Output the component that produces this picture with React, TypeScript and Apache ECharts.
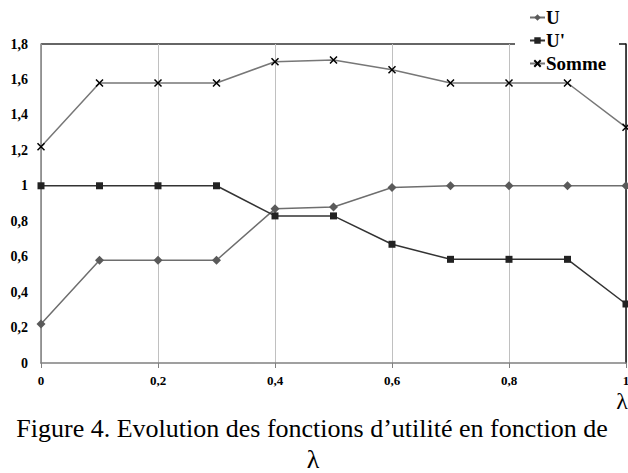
import React, { useEffect, useRef } from "react";
import * as echarts from "echarts";

const lambdas = [0, 0.1, 0.2, 0.3, 0.4, 0.5, 0.6, 0.7, 0.8, 0.9, 1];
const uValues = [0.22, 0.58, 0.58, 0.58, 0.87, 0.88, 0.99, 1.0, 1.0, 1.0, 1.0];
const uPrimeValues = [1, 1, 1, 1, 0.83, 0.83, 0.67, 0.585, 0.585, 0.585, 0.333];
const sommeValues = [1.22, 1.58, 1.58, 1.58, 1.7, 1.71, 1.655, 1.58, 1.58, 1.58, 1.33];
const seriesNames = ["U", "U'", "Somme"];
const caption = "Figure 4. Evolution des fonctions d\u2019utilit\u00e9 en fonction de";
const axisName = "\u03bb";

const FONT = "Liberation Serif";
const fmt = (v: number) => String(Math.round(v * 10) / 10).replace(".", ",");

export default function App() {
  const ref = useRef<HTMLDivElement>(null);
  useEffect(() => {
    if (!ref.current) return;
    const chart = echarts.init(ref.current, null, { renderer: "svg" });
    const pts = (vals: number[]) => lambdas.map((x, i) => [x, vals[i]]);
    chart.setOption({
      animation: false,
      backgroundColor: "#ffffff",
      textStyle: { fontFamily: FONT },
      grid: { left: 41, right: 2, top: 44, bottom: 110, containLabel: false, outerBoundsMode: "none" },
      legend: {
        orient: "vertical",
        left: 524,
        top: 3,
        itemGap: 4,
        itemWidth: 15,
        itemHeight: 8,
        data: seriesNames,
        textStyle: { fontFamily: FONT, fontWeight: "bold", fontSize: 19, color: "#000", padding: [0, 0, 0, -4] },
      },
      xAxis: {
        type: "value",
        min: 0,
        max: 1,
        interval: 0.2,
        axisLine: { show: true, lineStyle: { color: "#808080", width: 1.5 } },
        axisTick: { show: true, length: 5, lineStyle: { color: "#808080" } },
        axisLabel: { formatter: fmt, fontFamily: FONT, fontWeight: "bold", fontSize: 13, color: "#000", margin: 11 },
        splitLine: { show: true, lineStyle: { color: "#c0c0c0", width: 1 } },
      },
      yAxis: [
        {
          type: "value",
          min: 0,
          max: 1.8,
          interval: 0.2,
          axisLine: { show: true, lineStyle: { color: "#808080", width: 1.5 } },
          axisTick: { show: false },
          axisLabel: { formatter: fmt, fontFamily: FONT, fontWeight: "bold", fontSize: 14, color: "#000", margin: 13 },
          splitLine: { show: false },
        },
        {
          type: "value",
          position: "right",
          min: 0,
          max: 1.8,
          interval: 0.2,
          axisLine: { show: true, lineStyle: { color: "#111", width: 1.5 } },
          axisTick: { show: false },
          axisLabel: { show: false },
          splitLine: { show: false },
        },
      ],
      graphic: [
        {
          type: "line",
          shape: { x1: 41, y1: 44, x2: 515, y2: 44 },
          style: { stroke: "#333", lineWidth: 1.5 },
        },
        {
          type: "line",
          shape: { x1: 619, y1: 44, x2: 626, y2: 44 },
          style: { stroke: "#111", lineWidth: 1.5 },
        },
        {
          type: "text",
          x: 628,
          y: 389,
          style: { text: axisName, font: `24px ${FONT}`, fill: "#000", align: "right", verticalAlign: "top" },
        },
        {
          type: "text",
          x: 312,
          y: 415,
          style: { text: caption, font: `26px ${FONT}`, fill: "#000", align: "center", verticalAlign: "top" },
        },
        {
          type: "text",
          x: 313,
          y: 446,
          style: { text: axisName, font: `26px ${FONT}`, fill: "#000", align: "center", verticalAlign: "top" },
        },
      ],
      series: [
        {
          name: "U",
          type: "line",
          data: pts(uValues),
          clip: false,
          symbol: "diamond",
          symbolSize: 9,
          lineStyle: { color: "#6e6e6e", width: 1.5 },
          itemStyle: { color: "#5a5a5a" },
        },
        {
          name: "U'",
          type: "line",
          data: pts(uPrimeValues),
          clip: false,
          symbol: "rect",
          symbolSize: 7,
          lineStyle: { color: "#333", width: 1.5 },
          itemStyle: { color: "#222" },
        },
        {
          name: "Somme",
          type: "line",
          data: pts(sommeValues),
          clip: false,
          symbol: "path://M0,0L10,10M10,0L0,10",
          symbolSize: 7,
          lineStyle: { color: "#777", width: 1.5 },
          itemStyle: { color: "#000", borderColor: "#000", borderWidth: 1.5 },
        },
      ],
    });
    return () => chart.dispose();
  }, []);
  return <div ref={ref} style={{ width: 628, height: 473, position: "absolute", left: 0, top: 0 }} />;
}
